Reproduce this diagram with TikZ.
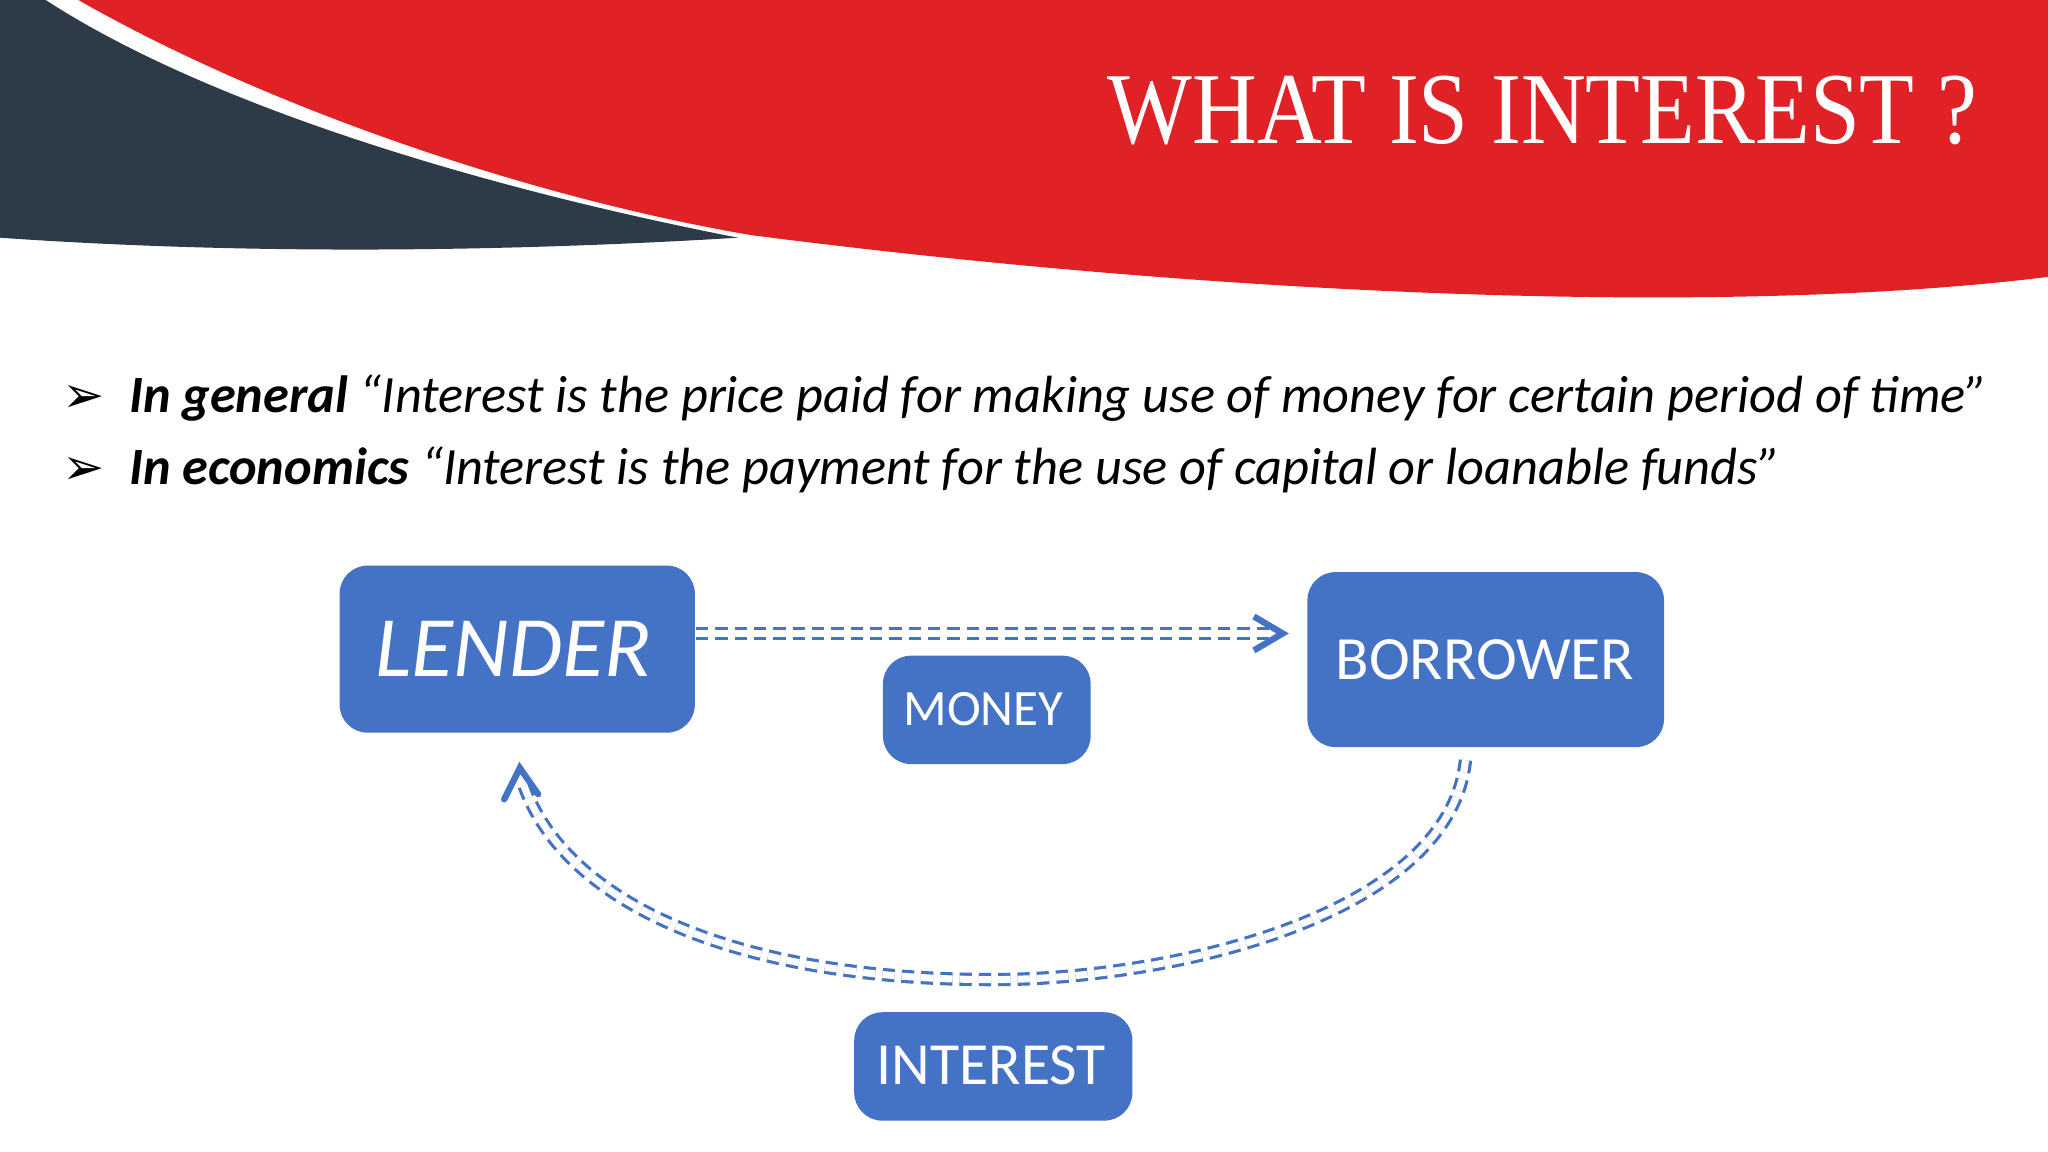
\documentclass[tikz,border=0pt]{standalone}
\usepackage{fontspec}
\setmainfont{Carlito}
\newfontfamily\titlefont{Liberation Serif}
\newfontfamily\symfont{DejaVu Sans}
\usetikzlibrary{arrows.meta}
\definecolor{rd}{HTML}{E02126}
\definecolor{dk}{HTML}{2D3A47}
\definecolor{bl}{HTML}{4472C4}
\tikzset{
  box/.style={fill=bl,rounded corners=8pt},
  flow/.style={draw=bl,line width=0.9pt,double=white,double distance=2pt,dash pattern=on 3.5pt off 2pt}
}
\begin{document}
\begin{tikzpicture}[x=0.01306cm,y=-0.01306cm]
\useasboundingbox (0,0) rectangle (1568,882);
\fill[white] (0,0) rectangle (1568,882);
\fill[rd] (60,0) -- (1568,0) -- (1568,212) .. controls (1300,245) and (900,222) .. (575,180) .. controls (400,150) and (200,80) .. (60,0) -- cycle;
\fill[dk] (0,0) -- (0,182) .. controls (200,196) and (400,192) .. (565,182) .. controls (350,140) and (150,75) .. (35,0) -- cycle;
\node[text=white,font=\titlefont\fontsize{29}{29}\selectfont,anchor=east,xscale=0.88] (title) at (1522,85) {WHAT IS INTEREST ?};
\node[anchor=west,font=\fontsize{14.9}{16}\selectfont] (b1) at (38,305) {{\symfont\Large ➢}\hspace{7pt}\textbf{\textit{In general}} \textit{“Interest is the price paid for making use of money for certain period of time”}};
\node[anchor=west,font=\fontsize{14.9}{16}\selectfont] (b2) at (38,360) {{\symfont\Large ➢}\hspace{7pt}\textbf{\textit{In economics}} \textit{“Interest is the payment for the use of capital or loanable funds”}};
\path[box] (260,433) rectangle (532,561);
\node[text=white,font=\fontsize{24.5}{25}\selectfont\itshape] (lender) at (393,497) {LENDER};
\path[box] (1001,438) rectangle (1274,572);
\node[text=white,font=\fontsize{17.5}{18}\selectfont] (borrower) at (1137,505) {BORROWER};
\path[box] (676,502) rectangle (835,585);
\node[text=white,font=\fontsize{14.5}{15}\selectfont] (money) at (753,543) {MONEY};
\path[box] (654,775) rectangle (867,858);
\node[text=white,font=\fontsize{17}{17}\selectfont] (interest) at (759,816) {INTEREST};
\coordinate (m1) at (533,485);
\coordinate (m2) at (975,485);
\coordinate (c1) at (1122,582);
\coordinate (c2) at (400,598);
\draw[flow] (m1) -- (m2);
\draw[bl,line width=1.8pt] (960,472) -- (982,485) -- (960,498);
\draw[flow] (c1) .. controls (1110,700) and (900,750) .. (760,750) .. controls (560,750) and (430,690) .. (c2);
\draw[bl,line width=1.8pt,line cap=round] (386,612) -- (398,588) -- (412,608);
\end{tikzpicture}
\end{document}
